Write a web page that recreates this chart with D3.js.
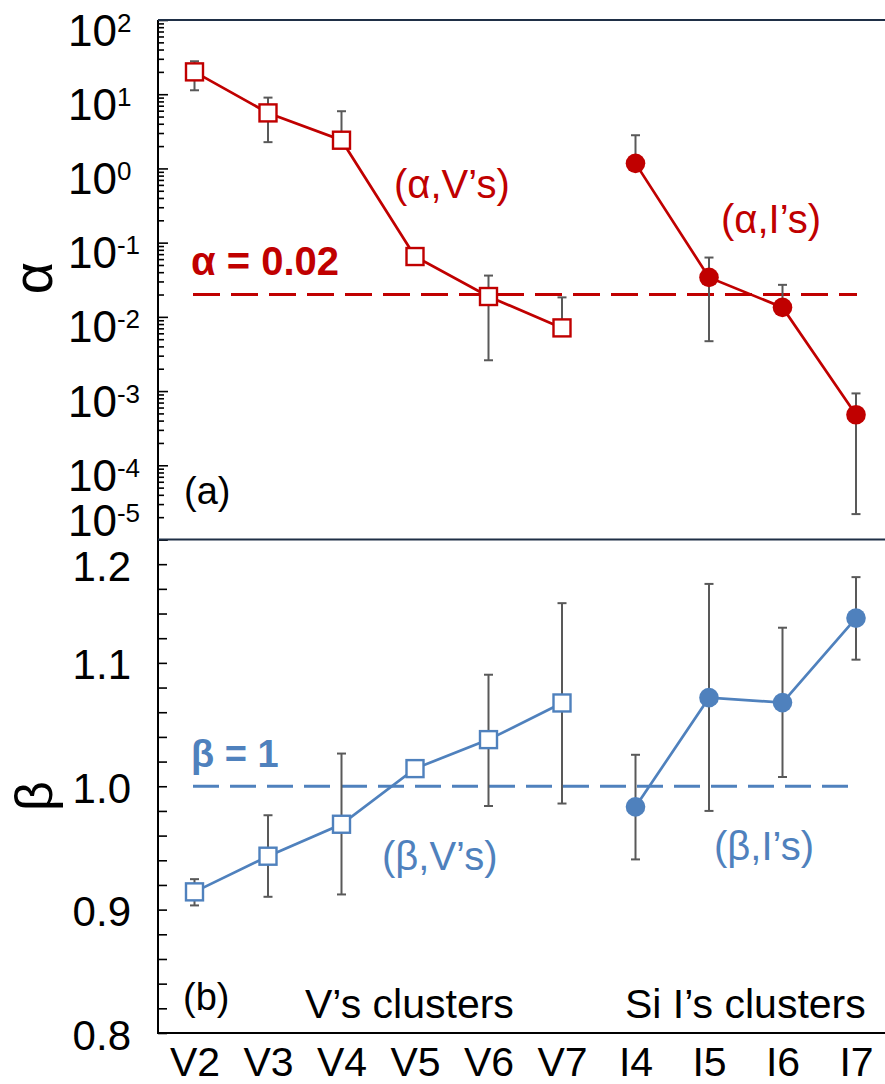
<!DOCTYPE html>
<html>
<head>
<meta charset="utf-8">
<script src="https://cdn.jsdelivr.net/npm/d3@7"></script>
<style>
  body { margin: 0; background: #fff; }
  svg text { font-family: "Liberation Sans", Arial, sans-serif; }
</style>
</head>
<body>
<script>
// categorias do eixo x
var vClusters = ['V2', 'V3', 'V4', 'V5', 'V6', 'V7'];
var iClusters = ['I4', 'I5', 'I6', 'I7'];
var categorias = vClusters.concat(iClusters);

// painel (a): alpha (escala log), valor + barra de erro
var alphaV = [20, 5.6, 2.4, 0.065, 0.0188, 0.0071];
var alphaVLow = [11.3, 2.26, 2.4, 0.065, 0.0026, 0.0071];
var alphaVHigh = [27.8, 9.0, 5.9, 0.065, 0.036, 0.0183];
var alphaI = [1.17, 0.034, 0.0134, 0.00048];
var alphaILow = [1.17, 0.0047, 0.0134, 0.000022];
var alphaIHigh = [2.8, 0.063, 0.027, 0.00093];
var alphaRef = 0.02;

// painel (b): beta (escala linear)
var betaV = [0.9144, 0.9433, 0.9692, 1.0143, 1.0378, 1.0675];
var betaVLow = [0.9034, 0.9104, 0.9123, 1.0143, 0.984, 0.986];
var betaVHigh = [0.9247, 0.9765, 1.0265, 1.0143, 1.0904, 1.1484];
var betaI = [0.9833, 1.0718, 1.0678, 1.1363];
var betaILow = [0.9407, 0.980, 1.0075, 1.1026];
var betaIHigh = [1.0255, 1.164, 1.1285, 1.1695];
var betaRef = 1;

var logTickLabels = [2, 1, 0, -1, -2, -3, -4, -5];
var linTickLabels = ['1.2', '1.1', '1.0', '0.9', '0.8'];

var width = 885, height = 1084;
var axisX = 158, rightX = 885;
var topA = 20, botA = 539.5, topB = 539.5, botB = 1033;
var red = '#c00000', blue = '#4f81bd', errCol = '#595959';

var svg = d3.select('body').append('svg')
    .attr('width', width).attr('height', height);

var x = d3.scalePoint().domain(categorias).range([194.5, 856]);
var yA = d3.scaleLog().domain([1e-5, 1e2]).range([botA, topA]);
var yB = d3.scaleLinear().domain([0.8, 1.2]).range([botB, topB]);

function juntar(cats, val, lo, hi){
    return cats.map(function(c, i){ return {c: c, v: val[i], lo: lo[i], hi: hi[i]}; });
}

// ---- eixos verticais ----
var axA = svg.append('g').attr('transform', 'translate(' + axisX + ',0)')
    .call(d3.axisRight(yA).tickValues(yA.ticks()).tickFormat('').tickSizeOuter(0).tickSize(10));
axA.selectAll('.tick line').attr('x2', function(d){
    var e = Math.log10(d);
    return Math.abs(e - Math.round(e)) < 1e-9 ? 10 : 6;
}).attr('stroke', '#000').attr('stroke-width', 1.6);

var axB = svg.append('g').attr('transform', 'translate(' + axisX + ',0)')
    .call(d3.axisRight(yB).tickValues(d3.range(0, 21).map(function(i){ return 0.8 + i * 0.02; }))
        .tickFormat('').tickSizeOuter(0).tickSize(9));
axB.selectAll('.tick line').attr('stroke', '#000').attr('stroke-width', 1.6);
svg.selectAll('.domain').remove();

// linhas das bordas
svg.append('line').attr('x1', axisX).attr('x2', axisX).attr('y1', topA).attr('y2', botB)
    .attr('stroke', '#000').attr('stroke-width', 2);
svg.append('line').attr('x1', axisX).attr('x2', rightX).attr('y1', topA).attr('y2', topA)
    .attr('stroke', '#1f2f46').attr('stroke-width', 2);
svg.append('line').attr('x1', axisX).attr('x2', rightX).attr('y1', botA).attr('y2', botA)
    .attr('stroke', '#1f2f46').attr('stroke-width', 2);
svg.append('line').attr('x1', axisX - 1).attr('x2', rightX).attr('y1', botB).attr('y2', botB)
    .attr('stroke', '#000').attr('stroke-width', 2.2);

// rotulos do eixo log (10^n)
logTickLabels.forEach(function(e){
    var yy = yA(Math.pow(10, e)) + 25.5;
    if (e === -5) yy -= 29; // ultimo rotulo sobe para nao bater no 1.2
    var t = svg.append('text').attr('x', 68).attr('y', yy)
        .attr('font-size', 44).attr('fill', '#000');
    t.append('tspan').text('10');
    t.append('tspan').attr('font-size', 26).attr('dy', -14).text(e < 0 ? '-' + (-e) : e);
});

// rotulos do eixo linear
linTickLabels.forEach(function(s){
    var yy = yB(+s) + 16.5;
    if (s === '1.2') yy += 25; // desce para nao bater no 10^-5
    svg.append('text').attr('x', 131).attr('y', yy).attr('text-anchor', 'end')
        .attr('font-size', 42).attr('fill', '#000').text(s);
});

// eixo x
var axX = svg.append('g').attr('transform', 'translate(0,' + botB + ')')
    .call(d3.axisBottom(x).tickSize(0).tickPadding(14));
axX.select('.domain').remove();
axX.selectAll('text').attr('font-size', 41).attr('fill', '#000')
    .attr('font-family', '"Liberation Sans", Arial, sans-serif');

// titulos dos eixos
svg.append('text').attr('transform', 'translate(52,278) rotate(-90)')
    .attr('text-anchor', 'middle').attr('font-size', 56)
    .attr('font-family', '"Liberation Serif", serif').text('α');
svg.append('text').attr('transform', 'translate(52,796) rotate(-90)')
    .attr('text-anchor', 'middle').attr('font-size', 52)
    .attr('font-family', '"Liberation Serif", serif').text('β');

// linhas de referencia tracejadas
svg.append('line').attr('x1', x('V2') - 1.5).attr('x2', x('I7') + 1)
    .attr('y1', yA(alphaRef)).attr('y2', yA(alphaRef))
    .attr('stroke', red).attr('stroke-width', 3).attr('stroke-dasharray', '27,11');
svg.append('line').attr('x1', x('V2') - 1.5).attr('x2', x('I7') + 1)
    .attr('y1', yB(betaRef)).attr('y2', yB(betaRef))
    .attr('stroke', blue).attr('stroke-width', 3).attr('stroke-dasharray', '26,11');

// desenha uma serie: barras de erro, linha e marcadores
function serie(dados, y, cor, quadrado){
    var g = svg.append('g');
    var err = g.selectAll('g.err').data(dados.filter(function(d){ return d.hi !== d.lo; }))
        .enter().append('g').attr('class', 'err');
    err.append('line')
        .attr('x1', function(d){ return x(d.c); }).attr('x2', function(d){ return x(d.c); })
        .attr('y1', function(d){ return y(d.lo); }).attr('y2', function(d){ return y(d.hi); })
        .attr('stroke', errCol).attr('stroke-width', 2);
    ['lo', 'hi'].forEach(function(k){
        err.filter(function(d){ return d[k] !== d.v; }).append('line')
            .attr('x1', function(d){ return x(d.c) - 4.5; }).attr('x2', function(d){ return x(d.c) + 4.5; })
            .attr('y1', function(d){ return y(d[k]); }).attr('y2', function(d){ return y(d[k]); })
            .attr('stroke', errCol).attr('stroke-width', 2);
    });

    var line = d3.line()
        .x(function(d){ return x(d.c); })
        .y(function(d){ return y(d.v); });
    g.append('path').datum(dados).attr('d', line)
        .attr('fill', 'none').attr('stroke', cor).attr('stroke-width', 2.7);

    if (quadrado){
        g.selectAll('rect').data(dados).enter().append('rect')
            .attr('x', function(d){ return x(d.c) - 8.5; })
            .attr('y', function(d){ return y(d.v) - 8.5; })
            .attr('width', 17).attr('height', 17)
            .attr('fill', '#fff').attr('stroke', cor).attr('stroke-width', 2.4);
    } else {
        g.selectAll('circle').data(dados).enter().append('circle')
            .attr('cx', function(d){ return x(d.c); })
            .attr('cy', function(d){ return y(d.v); })
            .attr('r', 9.8).attr('fill', cor);
    }
}

serie(juntar(vClusters, alphaV, alphaVLow, alphaVHigh), yA, red, true);
serie(juntar(iClusters, alphaI, alphaILow, alphaIHigh), yA, red, false);
serie(juntar(vClusters, betaV, betaVLow, betaVHigh), yB, blue, true);
serie(juntar(iClusters, betaI, betaILow, betaIHigh), yB, blue, false);

// textos de anotacao
function texto(s, xx, yy, size, cor, bold){
    svg.append('text').attr('x', xx).attr('y', yy).attr('font-size', size)
        .attr('fill', cor).attr('font-weight', bold ? 'bold' : 'normal').text(s);
}
texto('α = 0.02', 191, 275, 40, red, true);
texto('β = 1', 191, 767, 38, blue, true);
texto('(α,V’s)', 394, 198, 40, red);
texto('(α,I’s)', 721, 233, 40, red);
texto('(β,V’s)', 382, 870, 40, blue);
texto('(β,I’s)', 714, 860, 40, blue);
texto('(a)', 184, 504, 38, '#000');
texto('(b)', 183, 1010, 38, '#000');
texto('V’s clusters', 305, 1018, 41, '#000');
texto('Si I’s clusters', 625, 1018, 41, '#000');
</script>
</body>
</html>
